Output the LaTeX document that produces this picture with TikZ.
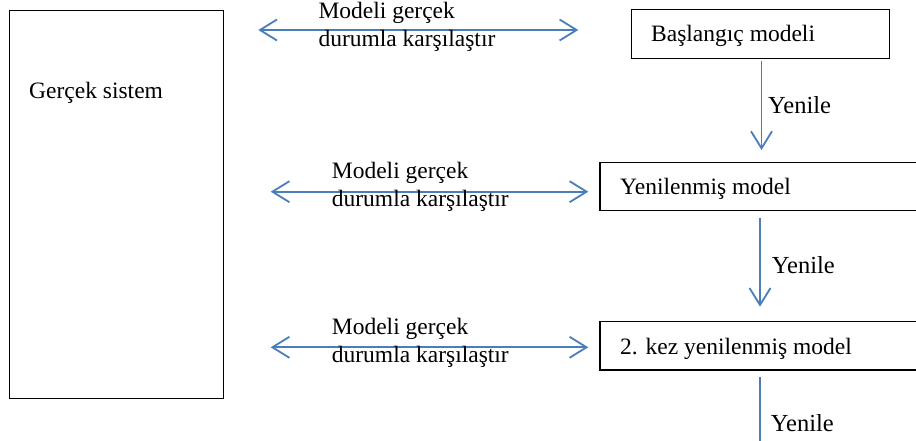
\documentclass[tikz,border=0pt]{standalone}
\usepackage{fontspec}
\setmainfont{Liberation Serif}
\newfontfamily\serifface{Liberation Serif}
\usetikzlibrary{arrows.meta}
\definecolor{linkblue}{HTML}{4A7EBB}
\tikzset{
  box/.style={draw=black, line width=1.2pt, rectangle, inner sep=0pt, anchor=north west},
  txt/.style={anchor=base west, inner sep=0pt, font=\serifface\fontsize{23.5}{28.4}\selectfont, align=left},
  lbl/.style={anchor=base west, inner sep=0pt, font=\serifface\fontsize{24.5}{29}\selectfont},
  link/.style={draw=linkblue, line width=1.8pt},
  tip/.style={-{Straight Barb[length=17pt,width=21pt,line width=1.8pt]}},
  tips/.style={{Straight Barb[length=17pt,width=21pt,line width=1.8pt]}-{Straight Barb[length=17pt,width=21pt,line width=1.8pt]}}
}
\begin{document}
\begin{tikzpicture}[x=1pt,y=-1pt]
\useasboundingbox (0,0) rectangle (916,441);
\clip (0,0) rectangle (916,441);

% real system
\node[box, minimum width=214.5pt, minimum height=388pt] (sys) at (8.5,10) {};
\node[txt] (systxt) at (29,98.3) {Gerçek sistem};

% model boxes
\node[box, minimum width=258pt, minimum height=49pt] (m0) at (631,9) {};
\node[txt] (m0txt) at (651,41.7) {Başlangıç modeli};

\node[box, minimum width=340pt, minimum height=48pt] (m1) at (599.3,162) {};
\node[txt] (m1txt) at (620,194) {Yenilenmiş model};

\node[box, minimum width=340pt, minimum height=48.6pt] (m2) at (599.3,320.7) {};
\node[txt] (m2txt) at (620,354) {2. kez yenilenmiş model};

% refinement arrows
\coordinate (ax0) at (761.5,0);
\coordinate (ax1) at (760,0);
\coordinate (bottom) at (760.3,460);
\draw[link, tip] ([yshift=-2pt]m0.south -| ax0) -- ([yshift=12pt]m1.north -| ax0);
\draw[link, tip] ([yshift=-6.7pt]m1.south -| ax1) -- ([yshift=14pt]m2.north -| ax1);
\draw[link] ([yshift=-6.7pt]m2.south -| bottom) -- (bottom);
\node[lbl] (y0) at (768,113.3) {Yenile};
\node[lbl] (y1) at (771.7,273.3) {Yenile};
\node[lbl] (y2) at (770.7,431.7) {Yenile};

% comparison arrows
\coordinate (cl0) at (258.3,30);   \coordinate (cr0) at (578.3,30);
\coordinate (cl1) at (270.7,191.7); \coordinate (cr1) at (588.3,191.7);
\coordinate (cl2) at (270.7,347.3); \coordinate (cr2) at (588.3,347.3);
\draw[link, tips] (cl0) -- (cr0);
\draw[link, tips] (cl1) -- (cr1);
\draw[link, tips] (cl2) -- (cr2);
\node[txt] (c0) at (318.3,46.7) {Modeli gerçek\\durumla karşılaştır};
\node[txt] (c1) at (331.7,206.7) {Modeli gerçek\\durumla karşılaştır};
\node[txt] (c2) at (331.7,362.7) {Modeli gerçek\\durumla karşılaştır};
\end{tikzpicture}
\end{document}
